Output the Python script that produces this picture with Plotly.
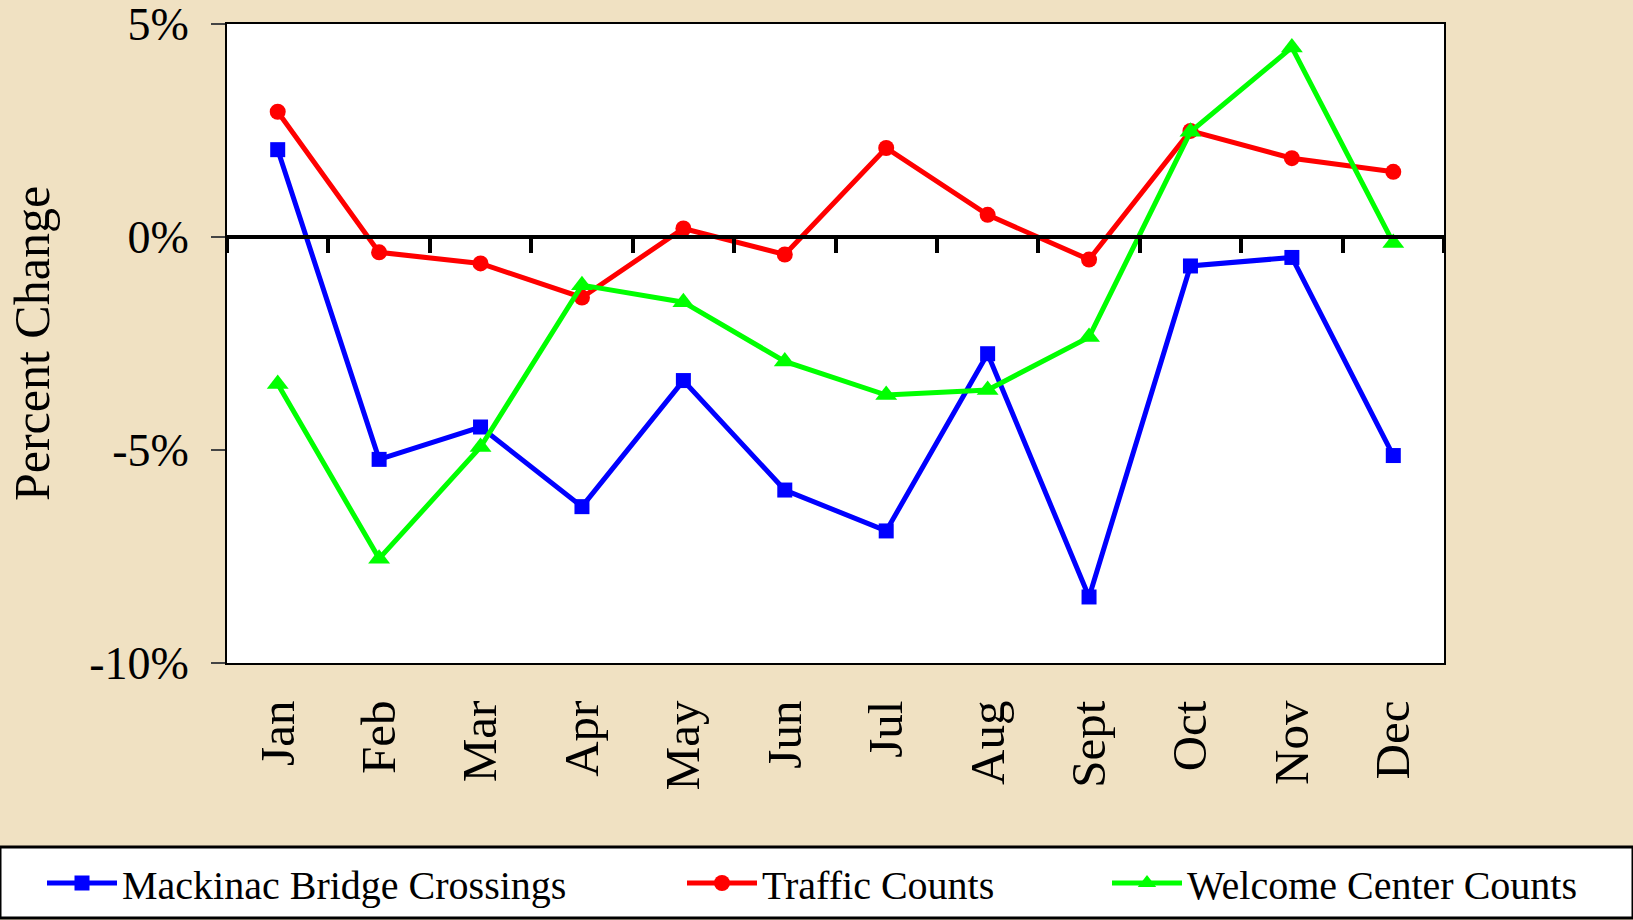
import numpy as np
import plotly.graph_objects as go

# ── 데이터 ──────────────────────────────────────────────
months = ["Jan", "Feb", "Mar", "Apr", "May", "Jun",
          "Jul", "Aug", "Sept", "Oct", "Nov", "Dec"]
bridge = [2.05, -5.22, -4.46, -6.33, -3.37, -5.94,
          -6.90, -2.74, -8.45, -0.68, -0.48, -5.13]
traffic = [2.94, -0.36, -0.62, -1.42, 0.20, -0.41,
           2.09, 0.52, -0.53, 2.49, 1.85, 1.53]
welcome = [-3.45, -7.55, -4.93, -1.13, -1.53, -2.92,
           -3.71, -3.59, -2.35, 2.47, 4.45, -0.14]
y_ticks = [5, 0, -5, -10]
y_labels = [f"{v}%" for v in y_ticks]

# ── 레이아웃 치수 ─────────────────────────────────────────
W, H = 1633, 920
ML, MR, MT, MB = 227, 189, 24, 257
PW, PH = W - ML - MR, H - MT - MB
FONT = "Liberation Serif"
BG = "#F0E1C2"


def px_x(x):
    return (x - ML) / PW


def px_y(y):
    return (H - MB - y) / PH


fig = go.Figure()

series = [
    ("Mackinac Bridge Crossings", bridge, "#0000FF", "square", 15, "legend"),
    ("Traffic Counts", traffic, "#FF0000", "circle", 16, "legend2"),
    ("Welcome Center Counts", welcome, "#00FF00", "triangle-up", 19, "legend3"),
]
for name, vals, color, sym, size, lg in series:
    fig.add_trace(go.Scatter(
        x=months, y=vals, name=name, mode="lines+markers",
        line=dict(color=color, width=5),
        marker=dict(symbol=sym, size=size, color=color),
        legend=lg,
    ))

# 0% 기준선 + 경계 눈금 (보조 x축)
bounds = np.arange(len(months) + 1) - 0.5
zero_pos = (0 - min(y_ticks)) / (max(y_ticks) - min(y_ticks))

fig.update_layout(
    width=W, height=H,
    margin=dict(l=ML, r=MR, t=MT, b=MB, autoexpand=False),
    paper_bgcolor=BG, plot_bgcolor="white",
    font=dict(family=FONT, color="black", size=46),
    xaxis=dict(
        type="category", range=[-0.5, len(months) - 0.5],
        showline=True, linecolor="black", linewidth=2, mirror=True,
        ticks="", tickangle=-90, showgrid=False,
        tickfont=dict(size=49), ticklabelstandoff=16,
    ),
    xaxis2=dict(
        overlaying="x", anchor="free", position=zero_pos, side="bottom",
        range=[-0.5, len(months) - 0.5], tickmode="array", tickvals=bounds,
        showticklabels=False, showline=True, linecolor="black", linewidth=4,
        ticks="outside", ticklen=14, tickwidth=4, tickcolor="black",
        showgrid=False, zeroline=False,
    ),
    yaxis=dict(
        range=[min(y_ticks), max(y_ticks)], tickmode="array",
        tickvals=y_ticks, ticktext=y_labels, ticklabeloverflow="allow",
        showline=True, linecolor="black", linewidth=2,
        mirror=True, ticks="outside", ticklen=14, tickwidth=2,
        showgrid=False, zeroline=False, ticklabelstandoff=13,
        title=dict(text="Percent Change", font=dict(size=50), standoff=24),
    ),
    showlegend=True,
)

# 보조 x축이 그려지도록 투명 트레이스 추가
fig.add_trace(go.Scatter(x=[bounds[0], bounds[-1]], y=[0, 0], xaxis="x2",
                         mode="lines", line=dict(width=0), showlegend=False,
                         hoverinfo="skip"))

# 범례 상자
fig.add_shape(type="rect", xref="paper", yref="paper",
              x0=px_x(0), x1=px_x(W), y0=px_y(847), y1=px_y(918),
              fillcolor="white", line=dict(color="black", width=3), layer="below")

leg_common = dict(orientation="h", yanchor="middle", xanchor="left",
                  y=px_y(883), bgcolor="rgba(0,0,0,0)", itemwidth=70,
                  font=dict(family=FONT, size=40, color="black"))
fig.update_layout(
    legend=dict(x=px_x(42), **leg_common),
    legend2=dict(x=px_x(682), **leg_common),
    legend3=dict(x=px_x(1107), **leg_common),
)

fig.write_html("out.html", config={"displayModeBar": False},
               post_script="document.body.style.margin='0';")
